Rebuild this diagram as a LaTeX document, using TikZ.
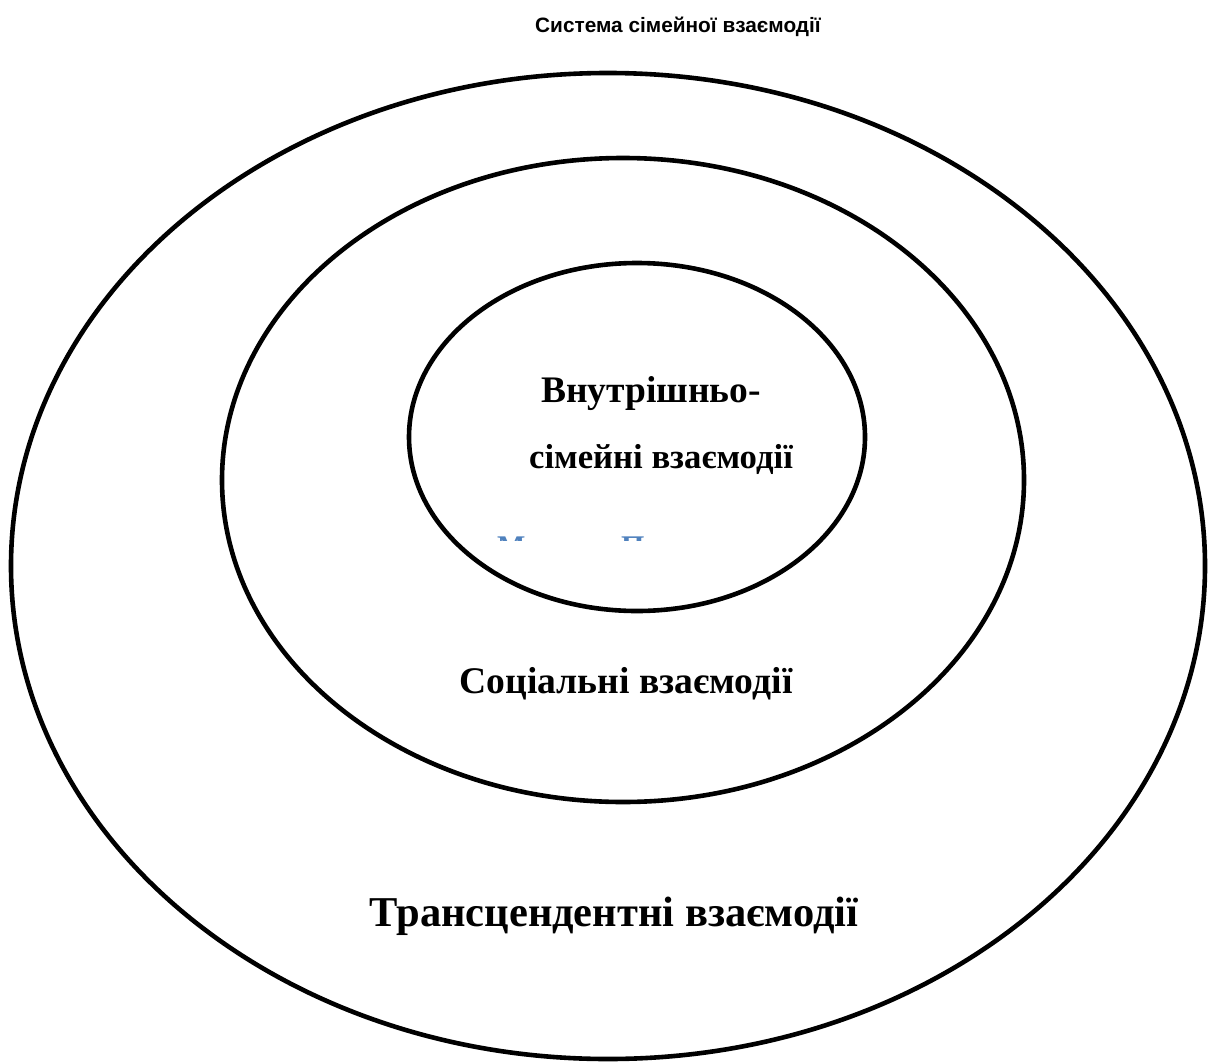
\documentclass[tikz,border=0pt]{standalone}
\usepackage{fontspec}
\setmainfont{Liberation Serif}
\newfontfamily\titlefont{Liberation Sans}
\begin{document}
\begin{tikzpicture}[x=1pt,y=-1pt,
  ring/.style={draw=black,line width=4.6pt},
  lbl/.style={font=\fontsize{34.7}{40}\selectfont\bfseries,inner sep=0pt,anchor=base},
  ghost/.style={font=\fontsize{30}{36}\selectfont\bfseries,inner sep=0pt,anchor=base west,text={rgb,255:red,79;green,129;blue,189}}]
\useasboundingbox (0,0) rectangle (1209,1062);
\node[font=\titlefont\fontsize{20.8}{24}\selectfont\bfseries,anchor=base,inner sep=0pt] (title) at (678,33) {Система сімейної взаємодії};
\draw[ring] (608,566) ellipse [x radius=597, y radius=493];
\draw[ring] (623,480) ellipse [x radius=401, y radius=322];
\draw[ring] (637,437) ellipse [x radius=228, y radius=174];
\begin{scope}
\clip (480,533) rectangle (700,540.5);
\node[ghost] (ghostA) at (497,556) {М};
\node[ghost] (ghostB) at (621,556) {П};
\end{scope}
\node[lbl,font=\fontsize{37.5}{44}\selectfont\bfseries] (inner1) at (651,402) {Внутрішньо-};
\node[lbl] (inner2) at (661,468) {сімейні взаємодії};
\node[lbl,font=\fontsize{37.6}{44}\selectfont\bfseries] (mid) at (626,693) {Соціальні взаємодії};
\node[lbl,font=\fontsize{42.5}{48}\selectfont\bfseries] (outer) at (614,926) {Трансцендентні взаємодії};
\end{tikzpicture}
\end{document}
